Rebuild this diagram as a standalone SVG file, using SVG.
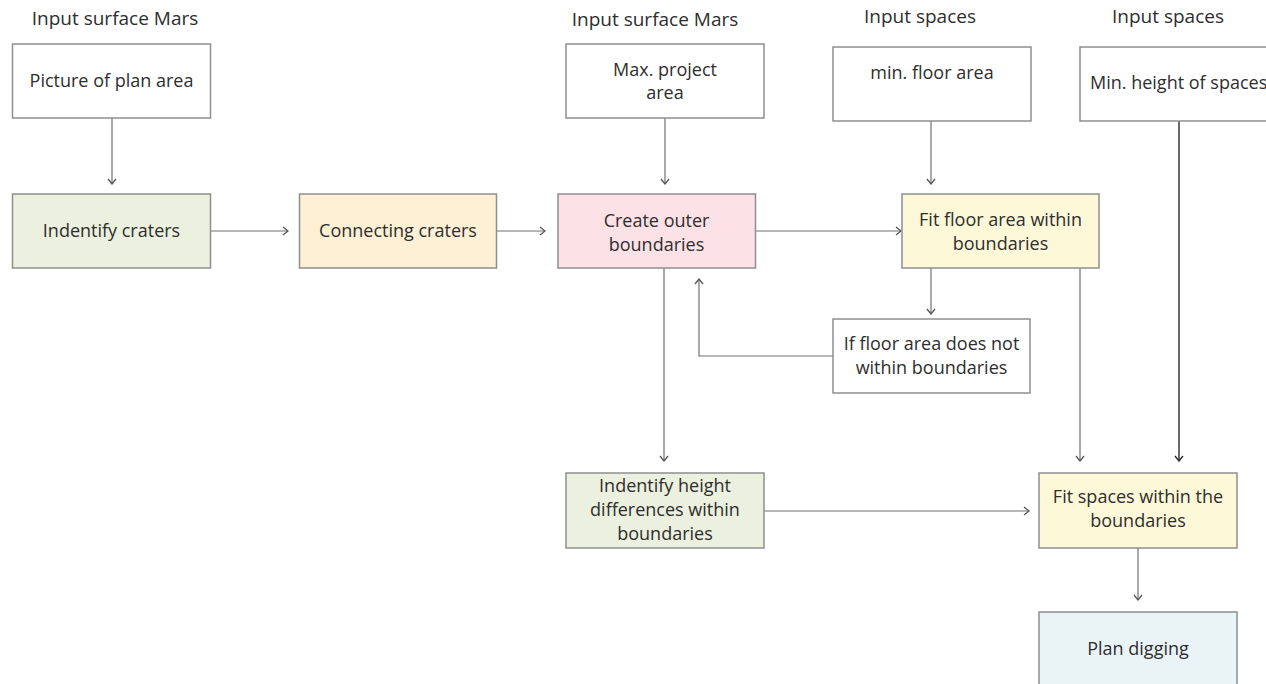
<svg xmlns="http://www.w3.org/2000/svg" width="1266" height="684" viewBox="0 0 1266 684">
  <style>
    .box { stroke: #8f8f8f; stroke-width: 1.5; }
    .plain { fill: #ffffff; }
    .green { fill: #ebf1de; }
    .orange { fill: #fdf0d4; }
    .pink { fill: #fce1e6; }
    .yellow { fill: #fdf8d8; }
    .blue { fill: #eaf4f7; }
    text { font-family: "Open Sans", "Noto Sans", "Liberation Sans", sans-serif; font-size: 18px; fill: #2e2e2e; }
    .head { font-size: 19px; }
    .c { text-anchor: middle; }
    .wire { fill: none; stroke: #707070; stroke-width: 1.2; }
    .wire-dark { fill: none; stroke: #2a2a2a; stroke-width: 1.4; }
  </style>
  <defs>
    <marker id="arrow" viewBox="-7 -5 8 10" refX="0" refY="0" markerWidth="8" markerHeight="10" markerUnits="userSpaceOnUse" orient="auto">
      <path d="M-5,-4 L0,0 L-5,4" fill="none" stroke="#555555" stroke-width="1.3"/>
    </marker>
    <marker id="arrow-dark" viewBox="-7 -5 8 10" refX="0" refY="0" markerWidth="8" markerHeight="10" markerUnits="userSpaceOnUse" orient="auto">
      <path d="M-5,-4 L0,0 L-5,4" fill="none" stroke="#2a2a2a" stroke-width="1.4"/>
    </marker>
  </defs>

  <rect width="1266" height="684" fill="#ffffff"/>

  <!-- column headings -->
  <g id="headings">
    <text class="c head" x="115" y="25">Input surface Mars</text>
    <text class="c head" x="655" y="26">Input surface Mars</text>
    <text class="c head" x="920" y="23">Input spaces</text>
    <text class="c head" x="1168" y="23">Input spaces</text>
  </g>

  <!-- connectors -->
  <g id="connectors">
    <line class="wire" x1="112" y1="118" x2="112" y2="184" marker-end="url(#arrow)"/>
    <line class="wire" x1="210" y1="231" x2="288" y2="231" marker-end="url(#arrow)"/>
    <line class="wire" x1="497" y1="231" x2="545" y2="231" marker-end="url(#arrow)"/>
    <line class="wire" x1="665" y1="118" x2="665" y2="184" marker-end="url(#arrow)"/>
    <line class="wire" x1="755" y1="231" x2="901" y2="231" marker-end="url(#arrow)"/>
    <line class="wire" x1="931" y1="121" x2="931" y2="184" marker-end="url(#arrow)"/>
    <line class="wire" x1="931" y1="268" x2="931" y2="314" marker-end="url(#arrow)"/>
    <polyline class="wire" points="833,356 699,356 699,279" marker-end="url(#arrow)"/>
    <line class="wire" x1="664" y1="268" x2="664" y2="461" marker-end="url(#arrow)"/>
    <line class="wire" x1="1080" y1="268" x2="1080" y2="461" marker-end="url(#arrow)"/>
    <line class="wire-dark" x1="1179" y1="121" x2="1179" y2="461" marker-end="url(#arrow-dark)"/>
    <line class="wire" x1="764" y1="511" x2="1029" y2="511" marker-end="url(#arrow)"/>
    <line class="wire" x1="1138" y1="548" x2="1138" y2="600" marker-end="url(#arrow)"/>
  </g>

  <g id="picture-of-plan-area">
    <rect class="box plain" x="12.5" y="44" width="198" height="74"/>
    <text class="c" x="111.5" y="87">Picture of plan area</text>
  </g>

  <g id="identify-craters">
    <rect class="box green" x="12.5" y="194" width="198" height="74"/>
    <text class="c" x="111.5" y="237">Indentify craters</text>
  </g>

  <g id="connecting-craters">
    <rect class="box orange" x="299.5" y="194" width="197" height="74"/>
    <text class="c" x="398" y="237">Connecting craters</text>
  </g>

  <g id="max-project-area">
    <rect class="box plain" x="566" y="44" width="198" height="74"/>
    <text class="c" x="665" y="76">Max. project</text>
    <text class="c" x="665" y="99">area</text>
  </g>

  <g id="create-outer-boundaries">
    <rect class="box pink" x="558" y="194" width="197.5" height="74"/>
    <text class="c" x="656.5" y="227">Create outer</text>
    <text class="c" x="656.5" y="251">boundaries</text>
  </g>

  <g id="min-floor-area">
    <rect class="box plain" x="833" y="47" width="198" height="74"/>
    <text class="c" x="932" y="79">min. floor area</text>
  </g>

  <g id="min-height-of-spaces">
    <rect class="box plain" x="1080" y="47" width="200" height="74"/>
    <text x="1090" y="89">Min. height of spaces</text>
  </g>

  <g id="fit-floor-area">
    <rect class="box yellow" x="902" y="194" width="197" height="74"/>
    <text class="c" x="1000.5" y="226">Fit floor area within</text>
    <text class="c" x="1000.5" y="250">boundaries</text>
  </g>

  <g id="floor-area-check">
    <rect class="box plain" x="833" y="319" width="197" height="74"/>
    <text class="c" x="931.5" y="350">If floor area does not</text>
    <text class="c" x="931.5" y="374">within boundaries</text>
  </g>

  <g id="identify-height-differences">
    <rect class="box green" x="566" y="473" width="198" height="75"/>
    <text class="c" x="665" y="492">Indentify height</text>
    <text class="c" x="665" y="516">differences within</text>
    <text class="c" x="665" y="540">boundaries</text>
  </g>

  <g id="fit-spaces">
    <rect class="box yellow" x="1039" y="473" width="198" height="75"/>
    <text class="c" x="1138" y="503">Fit spaces within the</text>
    <text class="c" x="1138" y="527">boundaries</text>
  </g>

  <g id="plan-digging">
    <rect class="box blue" x="1039" y="612" width="198" height="80"/>
    <text class="c" x="1138" y="655">Plan digging</text>
  </g>
</svg>
